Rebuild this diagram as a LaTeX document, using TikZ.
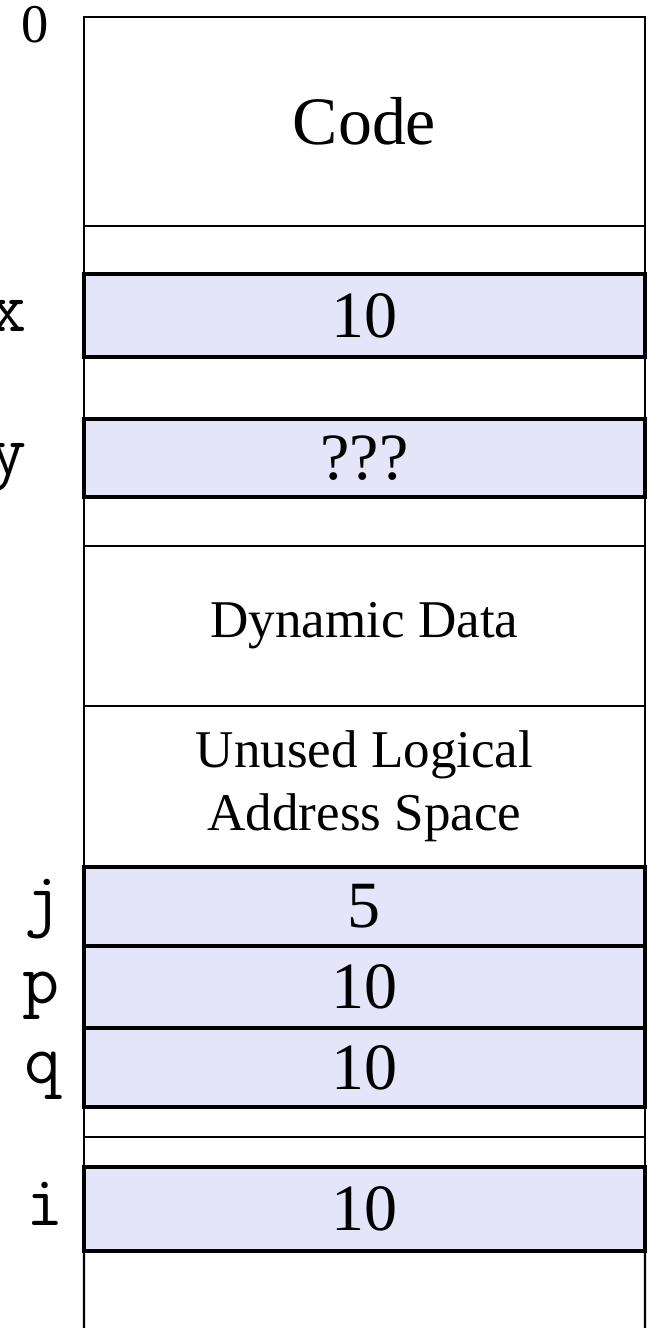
\documentclass[tikz,border=0pt]{standalone}
\usepackage{fontspec}
\setmainfont{Liberation Serif}
\usetikzlibrary{positioning}

\definecolor{cellfill}{RGB}{229,229,250}

\begin{document}
\begin{tikzpicture}[
        cell/.style={rectangle, draw=black, line width=0.6pt, minimum width=5.61cm, inner sep=0pt, outer sep=0pt},
        var/.style={cell, fill=cellfill, line width=0.9pt, font=\fontsize{18.8}{22}\selectfont},
        region/.style={cell, align=center, font=\fontsize{15.1}{17.9}\selectfont},
        lbl/.style={anchor=base, inner sep=0pt, font=\fontsize{20.5}{23}\ttfamily}
    ]
    \useasboundingbox (0,0) rectangle (6.54,-13.28);

    % Define memory cells, top to bottom
    \node[cell, minimum height=2.09cm, font=\fontsize{19.3}{22}\selectfont] (code) at (3.645,-1.215) {Code};
    \node[cell, minimum height=0.48cm] (gapA) at (3.645,-2.50) {};
    \node[var, minimum height=0.83cm] (x) at (3.645,-3.155) {10};
    \node[cell, minimum height=0.62cm] (gapB) at (3.645,-3.88) {};
    \node[var, minimum height=0.78cm] (y) at (3.645,-4.58) {???};
    \node[cell, minimum height=0.49cm] (gapC) at (3.645,-5.215) {};
    \node[region, minimum height=1.60cm] (dyn) at (3.645,-6.26) {Dynamic Data};
    \node[region, minimum height=1.61cm] (unused) at (3.645,-7.865) {Unused Logical\\Address Space};
    \node[var, minimum height=0.79cm] (j) at (3.645,-9.065) {5};
    \node[var, minimum height=0.82cm] (p) at (3.645,-9.87) {10};
    \node[var, minimum height=0.79cm] (q) at (3.645,-10.675) {10};
    \node[cell, minimum height=0.30cm] (gapD) at (3.645,-11.22) {};
    \node[cell, minimum height=0.30cm] (gapE) at (3.645,-11.52) {};
    \node[var, minimum height=0.84cm] (i) at (3.645,-12.09) {10};

    % Open bottom of the address space
    \coordinate (bl) at (0.84,-13.5);
    \coordinate (br) at (6.45,-13.5);
    \draw[line width=0.6pt] (i.south west) -- (bl);
    \draw[line width=0.6pt] (i.south east) -- (br);

    % Variable names and start address
    \node[anchor=base, inner sep=0pt, font=\fontsize{15.5}{18}\selectfont] (zero) at (0.35,-0.43) {0};
    \node[lbl] (xname) at (0.08,-3.31) {x};
    \node[lbl] (yname) at (0.08,-4.74) {y};
    \node[lbl] (jname) at (0.43,-9.22) {j};
    \node[lbl] (pname) at (0.41,-10.03) {p};
    \node[lbl] (qname) at (0.43,-10.83) {q};
    \node[lbl] (iname) at (0.45,-12.25) {i};

\end{tikzpicture}
\end{document}
